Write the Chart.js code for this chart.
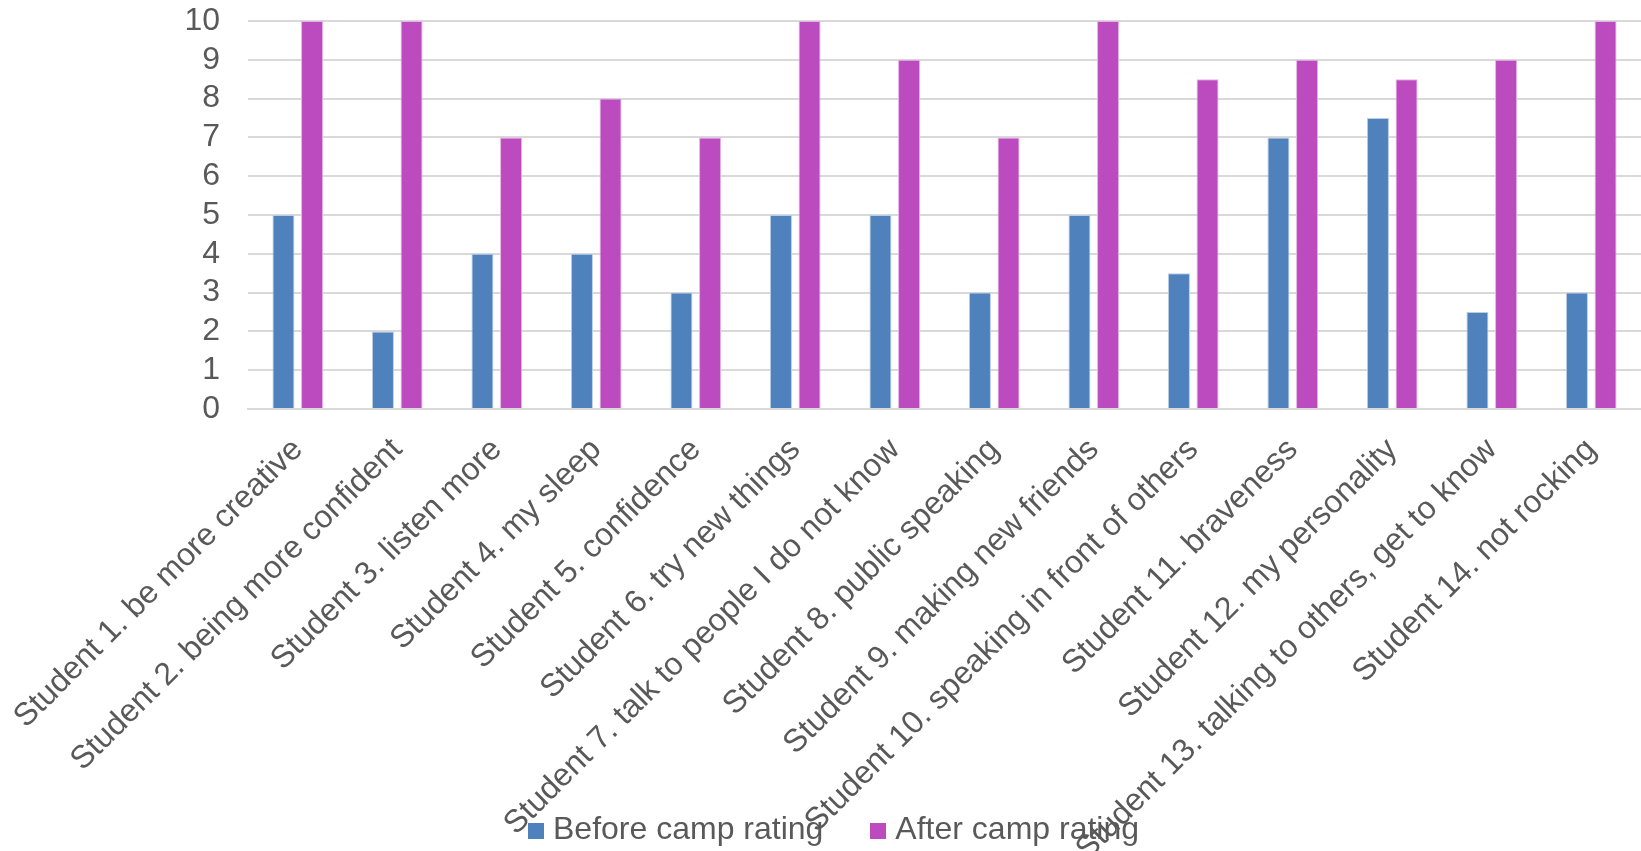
<!DOCTYPE html>
<html>
<head>
<meta charset="utf-8">
<script src="https://cdn.jsdelivr.net/npm/chart.js@4/dist/chart.umd.min.js"></script>
<style>
  html, body { margin: 0; padding: 0; background: #fff; }
  #wrap { position: relative; width: 1641px; height: 851px; overflow: hidden; }
  #legend {
    position: absolute; left: 528px; top: 808px;
    font-family: "Liberation Sans", Arial, sans-serif; font-size: 32px; color: #595959;
    white-space: nowrap; line-height: 40px;
  }
  #legend span.item { display: inline-block; margin-right: 47px; }
  #legend span.box { display: inline-block; width: 16px; height: 16px; margin-right: 9px; vertical-align: 0px; }
</style>
</head>
<body>
<div id="wrap">
  <canvas id="chart"></canvas>
  <div id="legend"></div>
</div>
<script>
// categories and ratings
const students = [
  'Student 1. be more creative',
  'Student 2. being more confident',
  'Student 3. listen more',
  'Student 4. my sleep',
  'Student 5. confidence',
  'Student 6. try new things',
  'Student 7. talk to people I do not know',
  'Student 8. public speaking',
  'Student 9. making new friends',
  'Student 10. speaking in front of others',
  'Student 11. braveness',
  'Student 12. my personality',
  'Student 13. talking to others, get to know',
  'Student 14. not rocking'
];
const beforeCamp = [5, 2, 4, 4, 3, 5, 5, 3, 5, 3.5, 7, 7.5, 2.5, 3];
const afterCamp = [10, 10, 7, 8, 7, 10, 9, 7, 10, 8.5, 9, 8.5, 9, 10];
const seriesNames = ['Before camp rating', 'After camp rating'];
const seriesColors = ['#4f81bd', '#bc4bbf'];
const seriesEdges = ['#b9cde6', '#e3b3e4'];

const textColor = '#595959';
const gridColor = '#d9d9d9';
const fontFamily = '"Liberation Sans", Arial, sans-serif';

const ctx = document.getElementById('chart').getContext('2d');
const chart = new Chart(ctx, {
  type: 'bar',
  data: {
    labels: students,
    datasets: [
      {
        label: seriesNames[0],
        data: beforeCamp,
        backgroundColor: seriesColors[0],
        borderColor: seriesEdges[0],
        borderWidth: 1,
        categoryPercentage: 0.575,
        barPercentage: 0.77
      },
      {
        label: seriesNames[1],
        data: afterCamp,
        backgroundColor: seriesColors[1],
        borderColor: seriesEdges[1],
        borderWidth: 1,
        categoryPercentage: 0.575,
        barPercentage: 0.77
      }
    ]
  },
  options: {
    responsive: true,
    maintainAspectRatio: false,
    animation: false,
    layout: { padding: 0 },
    plugins: {
      legend: { display: false },
      tooltip: { enabled: false }
    },
    scales: {
      x: {
        grid: { display: false, drawTicks: false },
        border: { display: true, color: gridColor, width: 2 },
        ticks: {
          autoSkip: false,
          maxRotation: 45,
          minRotation: 45,
          padding: 22,
          color: textColor,
          font: { family: fontFamily, size: 32 }
        },
        // keep the plot size like the original, long labels just run off the edges
        afterFit: (scale) => {
          scale.height = 442;
          scale.paddingLeft = 0;
          scale.paddingRight = 0;
        }
      },
      y: {
        min: 0,
        max: 10,
        ticks: {
          stepSize: 1,
          autoSkip: false,
          padding: 28,
          color: textColor,
          font: { family: fontFamily, size: 32 }
        },
        grid: { color: gridColor, lineWidth: 2, drawTicks: false },
        border: { display: false },
        afterFit: (scale) => {
          scale.width = 248;
          scale.paddingTop = 21;
          scale.paddingBottom = 0;
        }
      }
    }
  }
});

// legend drawn as html so it can sit over the rotated labels like in the original
const legendEl = document.getElementById('legend');
chart.data.datasets.forEach((ds) => {
  const item = document.createElement('span');
  item.className = 'item';
  const box = document.createElement('span');
  box.className = 'box';
  box.style.background = ds.backgroundColor;
  item.appendChild(box);
  item.appendChild(document.createTextNode(ds.label));
  legendEl.appendChild(item);
});
</script>
</body>
</html>
